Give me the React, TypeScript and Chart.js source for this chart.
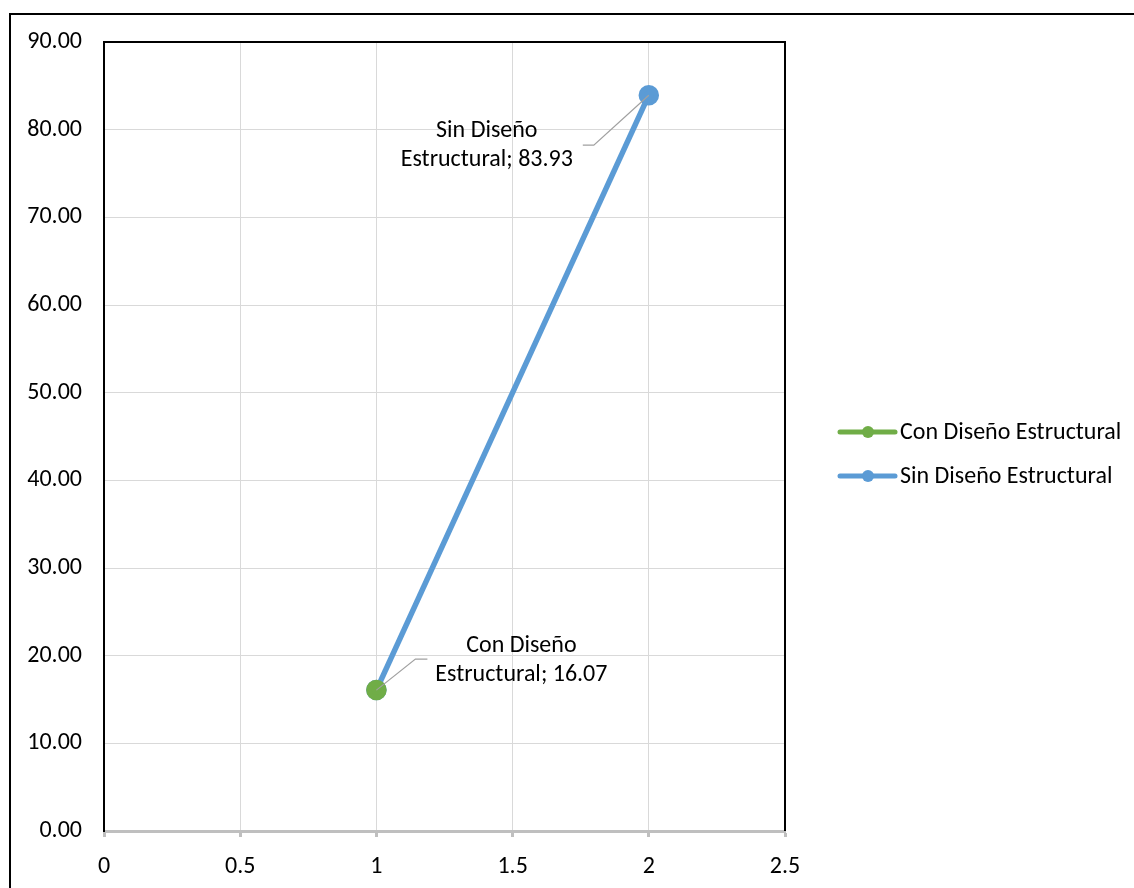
import React, { useEffect, useRef } from "react";
import { Chart, registerables } from "chart.js";

Chart.register(...registerables);

// Series data
const seriesNames = ["Con Diseño Estructural", "Sin Diseño Estructural"];
const conX = [1];
const conY = [16.07];
const sinX = [1, 2];
const sinY = [16.07, 83.93];
const seriesColors = ["#70ad47", "#5b9bd5"];

// Axis ranges
const xMin = 0;
const xMax = 2.5;
const xStep = 0.5;
const yMin = 0;
const yMax = 90;
const yStep = 10;

// Which point of each series carries a value label
const labelPointIndex = [0, 1];

const FONT = "Carlito, Calibri, 'Liberation Sans', sans-serif";
const FONT_SIZE = 24;

const frameAndLabels = {
  id: "frameAndLabels",
  beforeDraw(chart: any) {
    const ctx = chart.ctx;
    ctx.save();
    ctx.fillStyle = "#ffffff";
    ctx.fillRect(0, 0, chart.width, chart.height);
    // outer chart frame (left and top edges visible)
    ctx.strokeStyle = "#000000";
    ctx.lineWidth = 2;
    ctx.beginPath();
    ctx.moveTo(10, chart.height + 2);
    ctx.lineTo(10, 14);
    ctx.lineTo(chart.width + 2, 14);
    ctx.stroke();
    ctx.restore();
  },
  afterDraw(chart: any) {
    const ctx = chart.ctx;
    const a = chart.chartArea;
    ctx.save();
    // plot-area frame: top and right edges
    ctx.strokeStyle = "#000000";
    ctx.lineWidth = 2;
    ctx.beginPath();
    ctx.moveTo(a.left, a.top);
    ctx.lineTo(a.right, a.top);
    ctx.lineTo(a.right, a.bottom);
    ctx.stroke();

    // value labels with leader lines
    const specs = [
      { ds: 0, lead: [[39, -31], [51, -31]], text: [145, -44, -15] },
      { ds: 1, lead: [[-55, 50], [-66, 50]], text: [-162, 36, 65] },
    ];
    specs.forEach((s) => {
      const meta = chart.getDatasetMeta(s.ds);
      const idx = labelPointIndex[s.ds];
      const el = meta.data[idx];
      if (!el) return;
      const px = el.x;
      const py = el.y;
      const value = chart.data.datasets[s.ds].data[idx].y;
      ctx.strokeStyle = "#a0a0a0";
      ctx.lineWidth = 1.2;
      ctx.beginPath();
      ctx.moveTo(px, py);
      ctx.lineTo(px + s.lead[0][0], py + s.lead[0][1]);
      ctx.lineTo(px + s.lead[1][0], py + s.lead[1][1]);
      ctx.stroke();
      const words = seriesNames[s.ds].split(" ");
      const line1 = words.slice(0, 2).join(" ");
      const line2 = words.slice(2).join(" ") + "; " + value.toFixed(2);
      ctx.fillStyle = "#000000";
      ctx.font = `${FONT_SIZE}px ${FONT}`;
      ctx.textAlign = "center";
      ctx.textBaseline = "middle";
      ctx.fillText(line1, px + s.text[0], py + s.text[1]);
      ctx.fillText(line2, px + s.text[0], py + s.text[2]);
    });

    // legend
    const lx = 840;
    const ly = [432, 476];
    seriesNames.forEach((name, i) => {
      ctx.strokeStyle = seriesColors[i];
      ctx.lineWidth = 5;
      ctx.lineCap = "round";
      ctx.beginPath();
      ctx.moveTo(lx, ly[i]);
      ctx.lineTo(lx + 55, ly[i]);
      ctx.stroke();
      ctx.fillStyle = seriesColors[i];
      ctx.beginPath();
      ctx.arc(lx + 28, ly[i], 6, 0, Math.PI * 2);
      ctx.fill();
      ctx.fillStyle = "#000000";
      ctx.font = `${FONT_SIZE}px ${FONT}`;
      ctx.textAlign = "left";
      ctx.textBaseline = "middle";
      ctx.fillText(name, lx + 60, ly[i] + 1);
    });
    ctx.restore();
  },
};

export default function App() {
  const canvasRef = useRef<HTMLCanvasElement | null>(null);

  useEffect(() => {
    const canvas = canvasRef.current;
    if (!canvas) return;
    const chart = new Chart(canvas, {
      type: "scatter",
      data: {
        datasets: [
          {
            label: seriesNames[0],
            data: conX.map((x, i) => ({ x, y: conY[i] })),
            borderColor: seriesColors[0],
            backgroundColor: seriesColors[0],
            showLine: true,
            borderWidth: 5.5,
            pointRadius: 7.5,
            pointHoverRadius: 7.5,
          },
          {
            label: seriesNames[1],
            data: sinX.map((x, i) => ({ x, y: sinY[i] })),
            borderColor: seriesColors[1],
            backgroundColor: seriesColors[1],
            showLine: true,
            borderWidth: 5.5,
            pointRadius: 7.5,
            pointHoverRadius: 7.5,
          },
        ],
      },
      options: {
        responsive: false,
        animation: false,
        events: [],
        layout: { padding: { left: 0, top: 42, right: 349, bottom: 0 } },
        plugins: {
          legend: { display: false },
          tooltip: { enabled: false },
        },
        scales: {
          x: {
            type: "linear",
            min: xMin,
            max: xMax,
            afterFit: (scale: any) => {
              scale.height = 57;
            },
            ticks: {
              stepSize: xStep,
              color: "#000000",
              font: { family: FONT, size: FONT_SIZE },
              padding: 16,
              callback: (v: any) => String(Number(v)),
            },
            grid: {
              color: "#d9d9d9",
              lineWidth: 1,
              tickLength: 6,
              tickColor: "#bfbfbf",
              tickWidth: 3,
            },
            border: { color: "#bfbfbf", width: 3 },
          },
          y: {
            type: "linear",
            min: yMin,
            max: yMax,
            afterFit: (scale: any) => {
              scale.width = 104;
            },
            ticks: {
              stepSize: yStep,
              color: "#000000",
              font: { family: FONT, size: FONT_SIZE },
              padding: 22,
              callback: (v: any) => Number(v).toFixed(2),
            },
            grid: {
              color: "#d9d9d9",
              lineWidth: 1,
              drawTicks: false,
            },
            border: { color: "#000000", width: 2 },
          },
        },
      },
      plugins: [frameAndLabels],
    });
    return () => chart.destroy();
  }, []);

  return (
    <div style={{ position: "absolute", left: 0, top: 0, width: 1134, height: 888, overflow: "hidden", background: "#fff" }}>
      <canvas ref={canvasRef} width={1134} height={888} style={{ display: "block" }} />
    </div>
  );
}
